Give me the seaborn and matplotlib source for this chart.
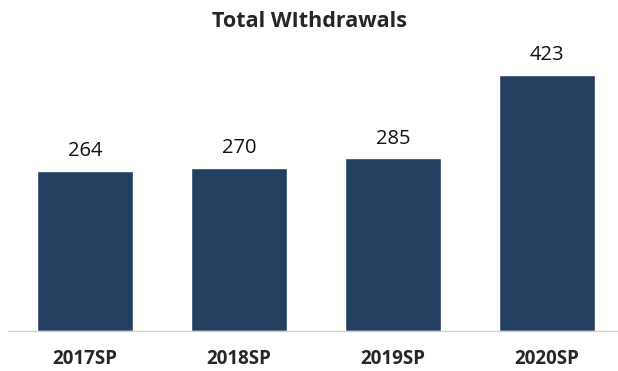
import matplotlib
matplotlib.use("Agg")
import matplotlib.pyplot as plt
import seaborn as sns
import pandas as pd

# datos
terms = ["2017SP", "2018SP", "2019SP", "2020SP"]
withdrawals = [264, 270, 285, 423]

df = pd.DataFrame({"term": terms, "withdrawals": withdrawals})

sns.set_style("white")
plt.rcParams["font.family"] = ["Open Sans", "DejaVu Sans"]

fig = plt.figure(figsize=(6.18, 3.71), dpi=100)
ax = fig.add_axes([0.013, 0.1078, 0.997, 0.816])

sns.barplot(data=df, x="term", y="withdrawals", color="#243F60", width=0.625,
            saturation=1, ax=ax)

for c in ax.containers:
    ax.bar_label(c, labels=[str(v) for v in withdrawals], padding=7,
                 fontsize=14.5, color="#111111")

ax.set_ylim(0, 500)
ax.set_xlim(-0.5, 3.5)
ax.set_yticks([])
ax.set_xlabel("")
ax.set_ylabel("")
ax.tick_params(axis="x", length=0, pad=13)
for lbl in ax.get_xticklabels():
    lbl.set_fontweight("bold")
    lbl.set_fontsize(13.5)
for s in ["top", "right", "left"]:
    ax.spines[s].set_visible(False)
ax.spines["bottom"].set_color("#D0D0D0")
ax.spines["bottom"].set_linewidth(1)

fig.text(0.5, 0.943, "Total WIthdrawals", ha="center", va="center",
         fontsize=15.5, fontweight="bold")

fig.savefig("out.png", dpi=100)
